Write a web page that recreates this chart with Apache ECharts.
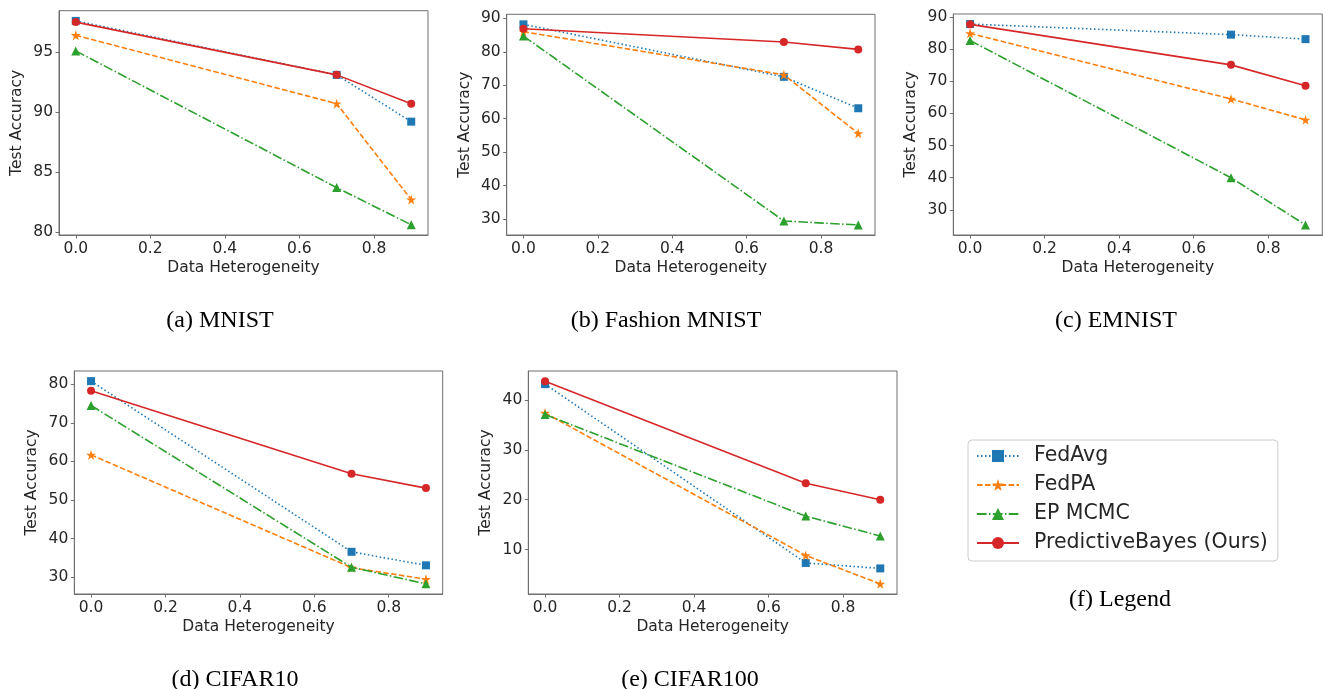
<!DOCTYPE html>
<html>
<head>
<meta charset="utf-8">
<script src="https://cdn.jsdelivr.net/npm/echarts@6/dist/echarts.min.js"></script>
<style>
html,body{margin:0;padding:0;background:#fff;}
#chart{width:1323px;height:689px;}
</style>
</head>
<body>
<div id="chart"></div>
<script>
// ---- data ----
const xValues = [0.0, 0.7, 0.9];
const seriesNames = ["FedAvg", "FedPA", "EP MCMC", "PredictiveBayes (Ours)"];
const xTicks = [0.0, 0.2, 0.4, 0.6, 0.8];

const mnistFedAvg = [97.6, 93.1, 89.2];
const mnistFedPA = [96.4, 90.7, 82.7];
const mnistEPMCMC = [95.1, 83.7, 80.6];
const mnistPB = [97.5, 93.1, 90.7];

const fashionFedAvg = [88.2, 72.5, 63.1];
const fashionFedPA = [86.0, 73.1, 55.6];
const fashionEPMCMC = [84.7, 29.4, 28.2];
const fashionPB = [86.9, 82.9, 80.7];

const emnistFedAvg = [87.8, 84.5, 83.1];
const emnistFedPA = [84.9, 64.5, 58.0];
const emnistEPMCMC = [82.7, 40.0, 25.3];
const emnistPB = [87.7, 75.1, 68.6];

const cifar10FedAvg = [80.8, 36.6, 33.1];
const cifar10FedPA = [61.7, 32.5, 29.5];
const cifar10EPMCMC = [74.5, 32.6, 28.3];
const cifar10PB = [78.3, 56.8, 53.1];

const cifar100FedAvg = [43.2, 7.3, 6.2];
const cifar100FedPA = [37.4, 8.8, 3.1];
const cifar100EPMCMC = [37.1, 16.7, 12.7];
const cifar100PB = [43.8, 23.3, 20.0];

const yTicksMnist = [80, 85, 90, 95];
const yTicksFashion = [30, 40, 50, 60, 70, 80, 90];
const yTicksEmnist = [30, 40, 50, 60, 70, 80, 90];
const yTicksCifar10 = [30, 40, 50, 60, 70, 80];
const yTicksCifar100 = [10, 20, 30, 40];

const captions = ["(a) MNIST", "(b) Fashion MNIST", "(c) EMNIST", "(d) CIFAR10", "(e) CIFAR100", "(f) Legend"];

// ---- layout / style ----
const panels = [
  {data: [mnistFedAvg, mnistFedPA, mnistEPMCMC, mnistPB], ticks: yTicksMnist, left: 59, top: 10.7, width: 369, height: 224.3},
  {data: [fashionFedAvg, fashionFedPA, fashionEPMCMC, fashionPB], ticks: yTicksFashion, left: 506.7, top: 14.3, width: 368.3, height: 220.7},
  {data: [emnistFedAvg, emnistFedPA, emnistEPMCMC, emnistPB], ticks: yTicksEmnist, left: 953.3, top: 14, width: 369, height: 221},
  {data: [cifar10FedAvg, cifar10FedPA, cifar10EPMCMC, cifar10PB], ticks: yTicksCifar10, left: 74.3, top: 371, width: 368.4, height: 223},
  {data: [cifar100FedAvg, cifar100FedPA, cifar100EPMCMC, cifar100PB], ticks: yTicksCifar100, left: 528.3, top: 371, width: 368.7, height: 223}
];
const captionPos = [[220, 321], [666, 321], [1116, 321], [235, 680], [690, 680], [1120, 600]];

const colors = ["#1f77b4", "#ff7f0e", "#2ca02c", "#d62728"];
const dashes = [[1.5, 2.5], [5.5, 2.4], [9.6, 2.4, 1.5, 2.4], "solid"];
const starPath = "path://M0,-1L0.2245,-0.309L0.951,-0.309L0.363,0.118L0.588,0.809L0,0.382L-0.588,0.809L-0.363,0.118L-0.951,-0.309L-0.2245,-0.309Z";
const symbols = ["rect", starPath, "triangle", "circle"];
const symbolSizes = [8, 10, 9, 8];

const font = "DejaVu Sans";
const axisColor = "#6e6e6e";
const textColor = "#262626";

const grids = [], xAxes = [], yAxes = [], series = [];
panels.forEach((p, i) => {
  grids.push({left: p.left, top: p.top, width: p.width, height: p.height, show: true, borderColor: axisColor, borderWidth: 1, backgroundColor: "transparent", containLabel: false});
  xAxes.push({
    type: "value", gridIndex: i, min: -0.045, max: 0.945,
    name: "Data Heterogeneity", nameLocation: "middle", nameGap: 25,
    nameTextStyle: {fontFamily: font, fontSize: 15.5, color: textColor},
    axisLine: {show: true, onZero: false, lineStyle: {color: axisColor}},
    axisTick: {show: true, length: 3.5, customValues: xTicks, lineStyle: {color: axisColor}},
    axisLabel: {customValues: xTicks, fontFamily: font, fontSize: 15.5, color: textColor, margin: 6, formatter: v => Number(v).toFixed(1)},
    splitLine: {show: false}
  });
  let lo = Infinity, hi = -Infinity;
  p.data.forEach(a => a.forEach(v => { lo = Math.min(lo, v); hi = Math.max(hi, v); }));
  const pad = (hi - lo) * 0.05;
  yAxes.push({
    type: "value", gridIndex: i, min: lo - pad, max: hi + pad,
    name: "Test Accuracy", nameLocation: "middle", nameGap: 34, nameRotate: 90,
    nameTextStyle: {fontFamily: font, fontSize: 15.5, color: textColor},
    axisLine: {show: true, onZero: false, lineStyle: {color: axisColor}},
    axisTick: {show: true, length: 3.5, customValues: p.ticks, lineStyle: {color: axisColor}},
    axisLabel: {customValues: p.ticks, fontFamily: font, fontSize: 15.5, color: textColor, margin: 6},
    splitLine: {show: false}
  });
  p.data.forEach((vals, k) => {
    series.push({
      name: seriesNames[k], type: "line", xAxisIndex: i, yAxisIndex: i,
      data: xValues.map((x, j) => [x, vals[j]]),
      symbol: symbols[k], symbolSize: symbolSizes[k], showSymbol: true,
      lineStyle: {color: colors[k], width: 1.6, type: dashes[k]},
      itemStyle: {color: colors[k]},
      z: 2 + k, animation: false, emphasis: {disabled: true}
    });
  });
});

const graphics = captions.map((c, i) => ({
  type: "text", x: captionPos[i][0], y: captionPos[i][1],
  style: {text: c, font: "24px 'Liberation Serif', 'Times New Roman', serif", fill: "#000", textAlign: "center", textVerticalAlign: "middle"}
}));

const chart = echarts.init(document.getElementById("chart"), null, {renderer: "canvas"});
chart.setOption({
  animation: false,
  backgroundColor: "#fff",
  grid: grids, xAxis: xAxes, yAxis: yAxes, series: series,
  legend: {
    data: seriesNames, orient: "vertical", left: 968, top: 440,
    padding: [5, 10, 7, 8], itemGap: 7, itemWidth: 42, itemHeight: 15,
    borderColor: "#cccccc", borderWidth: 1, borderRadius: 4, backgroundColor: "#fff",
    textStyle: {fontFamily: font, fontSize: 20.5, color: textColor, lineHeight: 22, padding: [0, 0, 0, 10]},
    selectedMode: false
  },
  graphic: graphics
});
</script>
</body>
</html>
